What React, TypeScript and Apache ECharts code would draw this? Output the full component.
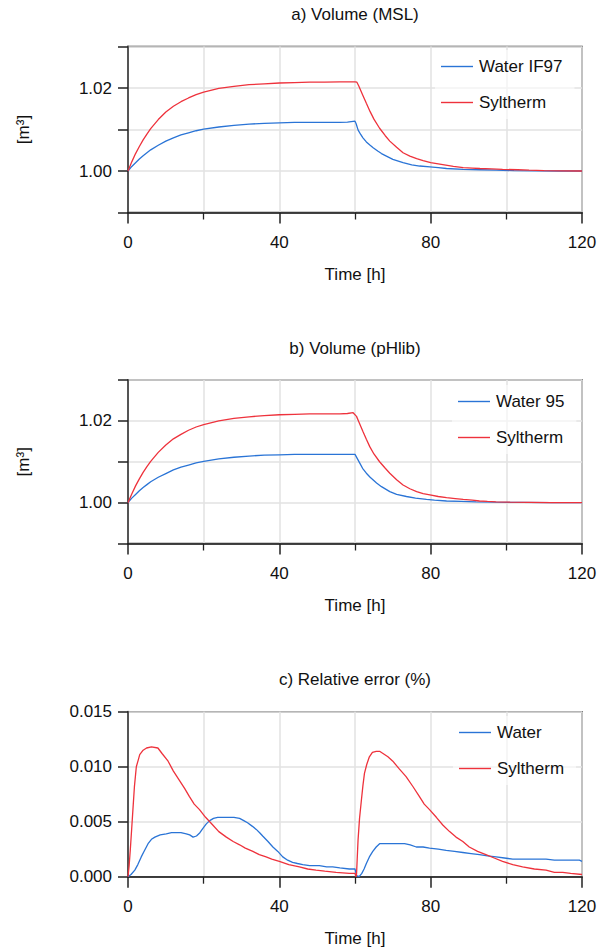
import React, { useEffect, useRef } from "react";
import * as echarts from "echarts";

// ---------- data ----------
const tickLabelsVol = ["1.00", "1.02"];

// a) Volume (MSL)
const mslWaterTime = [0, 1, 2, 3, 4, 5, 6, 8, 10, 12, 14, 16, 18, 20, 24, 28, 32, 36, 40, 44, 48, 52, 56, 58, 60,
  60.3, 60.8, 61.5, 62.1, 63, 64, 64.8, 66, 67, 68.3, 70, 72.7, 75, 77.1, 79.8, 82, 84.2, 88.6, 93, 97.3, 102, 108, 114, 120];
const mslWater = [1.0, 1.0011, 1.002, 1.0029, 1.0037, 1.0044, 1.0051, 1.0062, 1.0072, 1.008, 1.0087, 1.0092, 1.0097, 1.0101, 1.0106, 1.011, 1.0113, 1.0115, 1.0116, 1.0117, 1.0117, 1.0117, 1.0117, 1.0118, 1.012,
  1.0114, 1.0099, 1.0088, 1.008, 1.007, 1.0062, 1.0056, 1.0048, 1.0042, 1.0036, 1.0028, 1.002, 1.0015, 1.0012, 1.001, 1.0008, 1.0006, 1.0004, 1.0003, 1.0002, 1.0001, 1.00005, 1.0, 1.0];

const mslSylTime = [0, 1, 2, 3, 4, 5, 6, 8, 10, 12, 14, 16, 18, 20, 24, 28, 32, 36, 40, 44, 48, 52, 56, 58, 60,
  60.5, 61, 62, 63, 64, 65, 66.5, 68, 69.2, 71, 72.7, 74.5, 76.3, 78, 80, 82, 84, 86, 88.6, 91, 93, 96, 99, 103, 106, 110, 114, 120];
const mslSyl = [1.0, 1.0022, 1.0042, 1.0059, 1.0075, 1.0089, 1.0102, 1.0124, 1.0142, 1.0156, 1.0167, 1.0176, 1.0184, 1.019, 1.0199, 1.0204, 1.0208, 1.021, 1.0212, 1.0213, 1.0214, 1.0214, 1.0215, 1.0215, 1.0215,
  1.0214, 1.0205, 1.0184, 1.0163, 1.0143, 1.0125, 1.0103, 1.0085, 1.0072, 1.0057, 1.0044, 1.0036, 1.003, 1.0025, 1.002, 1.0017, 1.0014, 1.0011, 1.0008, 1.0007, 1.0006, 1.0005, 1.0004, 1.0003, 1.0002, 1.0001, 1.00005, 1.0];

// b) Volume (pHlib)
const phWaterTime = [0, 1, 2, 3, 4, 5, 6, 8, 10, 12, 14, 16, 18, 20, 24, 28, 32, 36, 40, 44, 48, 52, 56, 58, 60,
  61.3, 62, 63, 64, 65.7, 67, 69.2, 71, 73.6, 76, 78.9, 81, 84.2, 88, 92, 97, 104, 112, 120];
const phWater = [1.0, 1.0011, 1.002, 1.0029, 1.0037, 1.0044, 1.0051, 1.0062, 1.0071, 1.008, 1.0087, 1.0092, 1.0097, 1.0101, 1.0107, 1.0111, 1.0114, 1.0116, 1.0117, 1.0118, 1.0118, 1.0118, 1.0118, 1.0118, 1.0118,
  1.0096, 1.0084, 1.0072, 1.0062, 1.0048, 1.0039, 1.0027, 1.002, 1.0015, 1.0011, 1.0008, 1.0006, 1.0004, 1.0003, 1.0002, 1.0001, 1.00005, 1.0, 1.0];

const phSylTime = [0, 1, 2, 3, 4, 5, 6, 8, 10, 12, 14, 16, 18, 20, 24, 28, 32, 36, 40, 44, 48, 52, 56, 58, 59.5,
  60.4, 61, 62.1, 63, 63.9, 65, 66.5, 68, 69.2, 71, 72.7, 74.5, 76.3, 78, 79.8, 82, 84.2, 86.5, 88.6, 91, 92.9, 95, 97.3, 101, 106, 112, 120];
const phSyl = [1.0, 1.0021, 1.0041, 1.0058, 1.0074, 1.0088, 1.0101, 1.0123, 1.0141, 1.0156, 1.0167, 1.0177, 1.0185, 1.0191, 1.02, 1.0206, 1.021, 1.0213, 1.0215, 1.0216, 1.0217, 1.0217, 1.0217, 1.0218, 1.022,
  1.0211, 1.0198, 1.0174, 1.0155, 1.0137, 1.0119, 1.01, 1.0084, 1.0072, 1.0056, 1.0043, 1.0034, 1.0027, 1.0022, 1.0019, 1.0015, 1.0012, 1.001, 1.0008, 1.0006, 1.0004, 1.0003, 1.0002, 1.0001, 1.00005, 1.0, 1.0];

// c) Relative error (%)
const errWaterTime = [0, 0.8, 1.8, 2.6, 3.5, 4.4, 5.3, 6.2, 7.1, 8.5, 10.1, 11.5, 12.8, 14, 15.4, 16.3, 17.2, 18.1, 19, 19.8, 20.7, 21.6, 22.6, 23.7, 25, 26.4, 28, 29.5, 30.6, 31.6, 32.8, 33.9, 34.8, 35.6, 37, 38.3, 39.6, 40.9, 42.2, 43.5, 44.8, 46.2, 48, 50.6, 52.5, 54.1, 56, 58.5, 60, 60.4, 61.1,
  61.8, 62.4, 63, 63.8, 64.7, 65.6, 66.5, 67.8, 69.1, 71, 73.1, 74.6, 76.2, 78, 79.7, 82, 84.1, 86.3, 88.5, 90.7, 92.9, 95, 97.3, 99.5, 101.7, 104, 106.1, 108.3, 110.5, 112.7, 114.9, 117, 119.3, 120];
const errWater = [0, 0.0002, 0.0006, 0.0011, 0.0018, 0.0024, 0.003, 0.0034, 0.0036, 0.0038, 0.0039, 0.004, 0.004, 0.004, 0.0039, 0.0038, 0.0036, 0.0037, 0.004, 0.0044, 0.0048, 0.0051, 0.0053, 0.0054, 0.0054, 0.0054, 0.0054, 0.0053, 0.0051, 0.0049, 0.0046, 0.0043, 0.004, 0.0037, 0.0032, 0.0027, 0.0023, 0.0018, 0.0015, 0.0013, 0.0012, 0.0011, 0.001, 0.001, 0.0009, 0.0009, 0.0008, 0.0007, 0.0007, 0.0001, 0,
  0.0003, 0.0007, 0.0012, 0.0018, 0.0023, 0.0027, 0.003, 0.003, 0.003, 0.003, 0.003, 0.0029, 0.0027, 0.0027, 0.0026, 0.0025, 0.0024, 0.0023, 0.0022, 0.0021, 0.002, 0.0019, 0.0018, 0.0017, 0.0016, 0.0016, 0.0016, 0.0016, 0.0016, 0.0015, 0.0015, 0.0015, 0.0015, 0.0014];

const errSylTime = [0, 0.3, 0.6, 1, 1.3, 1.7, 2.2, 2.7, 3.1, 4, 4.9, 6.2, 7.9, 9, 10.6, 12, 13.5, 15, 16.2, 17.5, 18.9, 20.5, 22.4, 24, 26, 27.8, 29.5, 31, 33, 34.7, 36.5, 38, 40, 42.5, 45.3, 47.5, 49.7, 52, 55, 58.5, 60, 60.3,
  60.4, 60.8, 61.2, 61.7, 62.1, 62.5, 63.1, 63.8, 64.6, 65.6, 66.5, 67.4, 68.7, 70, 71.7, 73.5, 75.3, 77, 78.3, 79.7, 81.5, 83.2, 85, 86.7, 88.5, 90.2, 92.4, 94.6, 96.8, 99, 101.7, 104.3, 107.4, 110.5, 112.7, 114.9, 117, 120];
const errSyl = [0, 0.001, 0.0024, 0.0045, 0.0061, 0.0082, 0.01, 0.0106, 0.0111, 0.0115, 0.0117, 0.0118, 0.0117, 0.0112, 0.0105, 0.0096, 0.0088, 0.008, 0.0073, 0.0066, 0.0061, 0.0054, 0.0047, 0.0041, 0.0036, 0.0032, 0.0029, 0.0026, 0.0023, 0.002, 0.0018, 0.0016, 0.0014, 0.0011, 0.0009, 0.0007, 0.0006, 0.0005, 0.0004, 0.0003, 0.0003, 0,
  0.0002, 0.0033, 0.0053, 0.007, 0.0083, 0.0094, 0.0102, 0.0109, 0.0113, 0.0114, 0.0114, 0.0112, 0.0109, 0.0105, 0.0098, 0.0091, 0.0082, 0.0073, 0.0066, 0.0061, 0.0054, 0.0047, 0.0041, 0.0036, 0.0032, 0.0027, 0.0023, 0.002, 0.0017, 0.0014, 0.0011, 0.0009, 0.0007, 0.0006, 0.0004, 0.0004, 0.0003, 0.0002];

const titles = ["a) Volume (MSL)", "b) Volume (pHlib)", "c) Relative error (%)"];
const legendNames = [["Water IF97", "Syltherm"], ["Water 95", "Syltherm"], ["Water", "Syltherm"]];

// ---------- styling ----------
const FONT = '"Liberation Sans", Arial, Helvetica, sans-serif';
const BLUE = "#2a74d6";
const RED = "#ee323c";
const GRID_COLOR = "#e2e2e2";
const PLOT_LEFT = 128;
const PLOT_WIDTH = 454;
const panels = [
  { top: 46.5, height: 166, legendLeft: 435, legendTop: 50 },
  { top: 380, height: 163.5, legendLeft: 452, legendTop: 385 },
  { top: 711.7, height: 165, legendLeft: 453, legendTop: 716 },
];

const zip = (t: number[], v: number[]) => t.map((x, i) => [x, v[i]]);

export default function App() {
  const ref = useRef<HTMLDivElement>(null);

  useEffect(() => {
    if (!ref.current) return;
    const chart = echarts.init(ref.current, undefined, { renderer: "svg" });

    const textBase = { fontFamily: FONT, fontSize: 17, color: "#111" };

    const grid = panels.map((p) => ({
      left: PLOT_LEFT,
      width: PLOT_WIDTH,
      top: p.top,
      height: p.height,
      show: true,
      borderColor: "#333",
      borderWidth: 1.5,
      backgroundColor: "transparent",
    }));

    const xAxis = panels.map((_, i) => ({
      gridIndex: i,
      type: "value",
      min: 0,
      max: 120,
      interval: 40,
      axisLine: { show: true, onZero: false, lineStyle: { color: "#111", width: 1.5 } },
      axisTick: { show: true, inside: false, length: 11, lineStyle: { color: "#222", width: 1.5 } },
      minorTick: { show: true, splitNumber: 2, length: 7, lineStyle: { color: "#222", width: 1.3 } },
      splitLine: { show: true, lineStyle: { color: GRID_COLOR, width: 1.5 } },
      minorSplitLine: { show: true, lineStyle: { color: GRID_COLOR, width: 1.5 } },
      axisLabel: { ...textBase, margin: 21 },
      name: "Time [h]",
      nameLocation: "middle",
      nameGap: 53,
      nameTextStyle: { ...textBase },
    }));

    const volFormatter = (v: number) => {
      for (const s of tickLabelsVol) {
        if (Math.abs(v - parseFloat(s)) < 1e-6) return s;
      }
      return "";
    };

    const yAxisCommon = {
      type: "value",
      axisLine: { show: true, onZero: false, lineStyle: { color: "#555", width: 2 } },
      axisTick: { show: true, inside: false, length: 10, lineStyle: { color: "#222", width: 1.5 } },
      splitLine: { show: true, lineStyle: { color: GRID_COLOR, width: 1.5 } },
    };

    const yAxis = [
      {
        ...yAxisCommon,
        gridIndex: 0,
        min: 0.99,
        max: 1.03,
        interval: 0.01,
        axisLabel: { ...textBase, margin: 16, formatter: volFormatter },
        name: "[m³]",
        nameLocation: "middle",
        nameGap: 96,
        nameTextStyle: { ...textBase },
      },
      {
        ...yAxisCommon,
        gridIndex: 1,
        min: 0.99,
        max: 1.03,
        interval: 0.01,
        axisLabel: { ...textBase, margin: 16, formatter: volFormatter },
        name: "[m³]",
        nameLocation: "middle",
        nameGap: 96,
        nameTextStyle: { ...textBase },
      },
      {
        ...yAxisCommon,
        gridIndex: 2,
        min: 0,
        max: 0.015,
        interval: 0.005,
        axisLabel: { ...textBase, margin: 16, formatter: (v: number) => v.toFixed(3) },
      },
    ];

    const mkLine = (name: string, data: number[][], idx: number, color: string) => ({
      type: "line",
      name,
      xAxisIndex: idx,
      yAxisIndex: idx,
      data,
      symbol: "none",
      showSymbol: false,
      smooth: false,
      lineStyle: { color, width: 1.3 },
      itemStyle: { color },
      z: color === RED ? 3 : 2,
    });

    const series = [
      mkLine(legendNames[0][0], zip(mslWaterTime, mslWater), 0, BLUE),
      mkLine(legendNames[0][1], zip(mslSylTime, mslSyl), 0, RED),
      mkLine(legendNames[1][0], zip(phWaterTime, phWater), 1, BLUE),
      mkLine(legendNames[1][1], zip(phSylTime, phSyl), 1, RED),
      mkLine(legendNames[2][0], zip(errWaterTime, errWater), 2, BLUE),
      mkLine(legendNames[2][1], zip(errSylTime, errSyl), 2, RED),
    ];

    const legend = panels.map((p, i) => ({
      data: legendNames[i].map((n) => ({ name: n, icon: "rect" })),
      orient: "vertical",
      left: p.legendLeft,
      top: p.legendTop,
      padding: [8, 12, 8, 6],
      itemWidth: 32,
      itemHeight: 1.4,
      itemGap: 19,
      backgroundColor: "rgba(255,255,255,0.6)",
      selectedMode: false,
      textStyle: { ...textBase, lineHeight: 17, padding: [0, 0, 0, 1] },
    }));

    const graphic = panels.map((p, i) => ({
      type: "text",
      x: PLOT_LEFT + PLOT_WIDTH / 2,
      y: p.top - 32,
      style: {
        text: titles[i],
        font: `17px ${FONT}`,
        fill: "#111",
        textAlign: "center",
        textVerticalAlign: "middle",
        verticalAlign: "middle",
      },
    }));

    chart.setOption({
      animation: false,
      backgroundColor: "#ffffff",
      grid,
      xAxis,
      yAxis,
      series,
      legend,
      graphic,
    });

    return () => chart.dispose();
  }, []);

  return (
    <div
      ref={ref}
      style={{ position: "fixed", left: 0, top: 0, width: 610, height: 952 }}
    />
  );
}
